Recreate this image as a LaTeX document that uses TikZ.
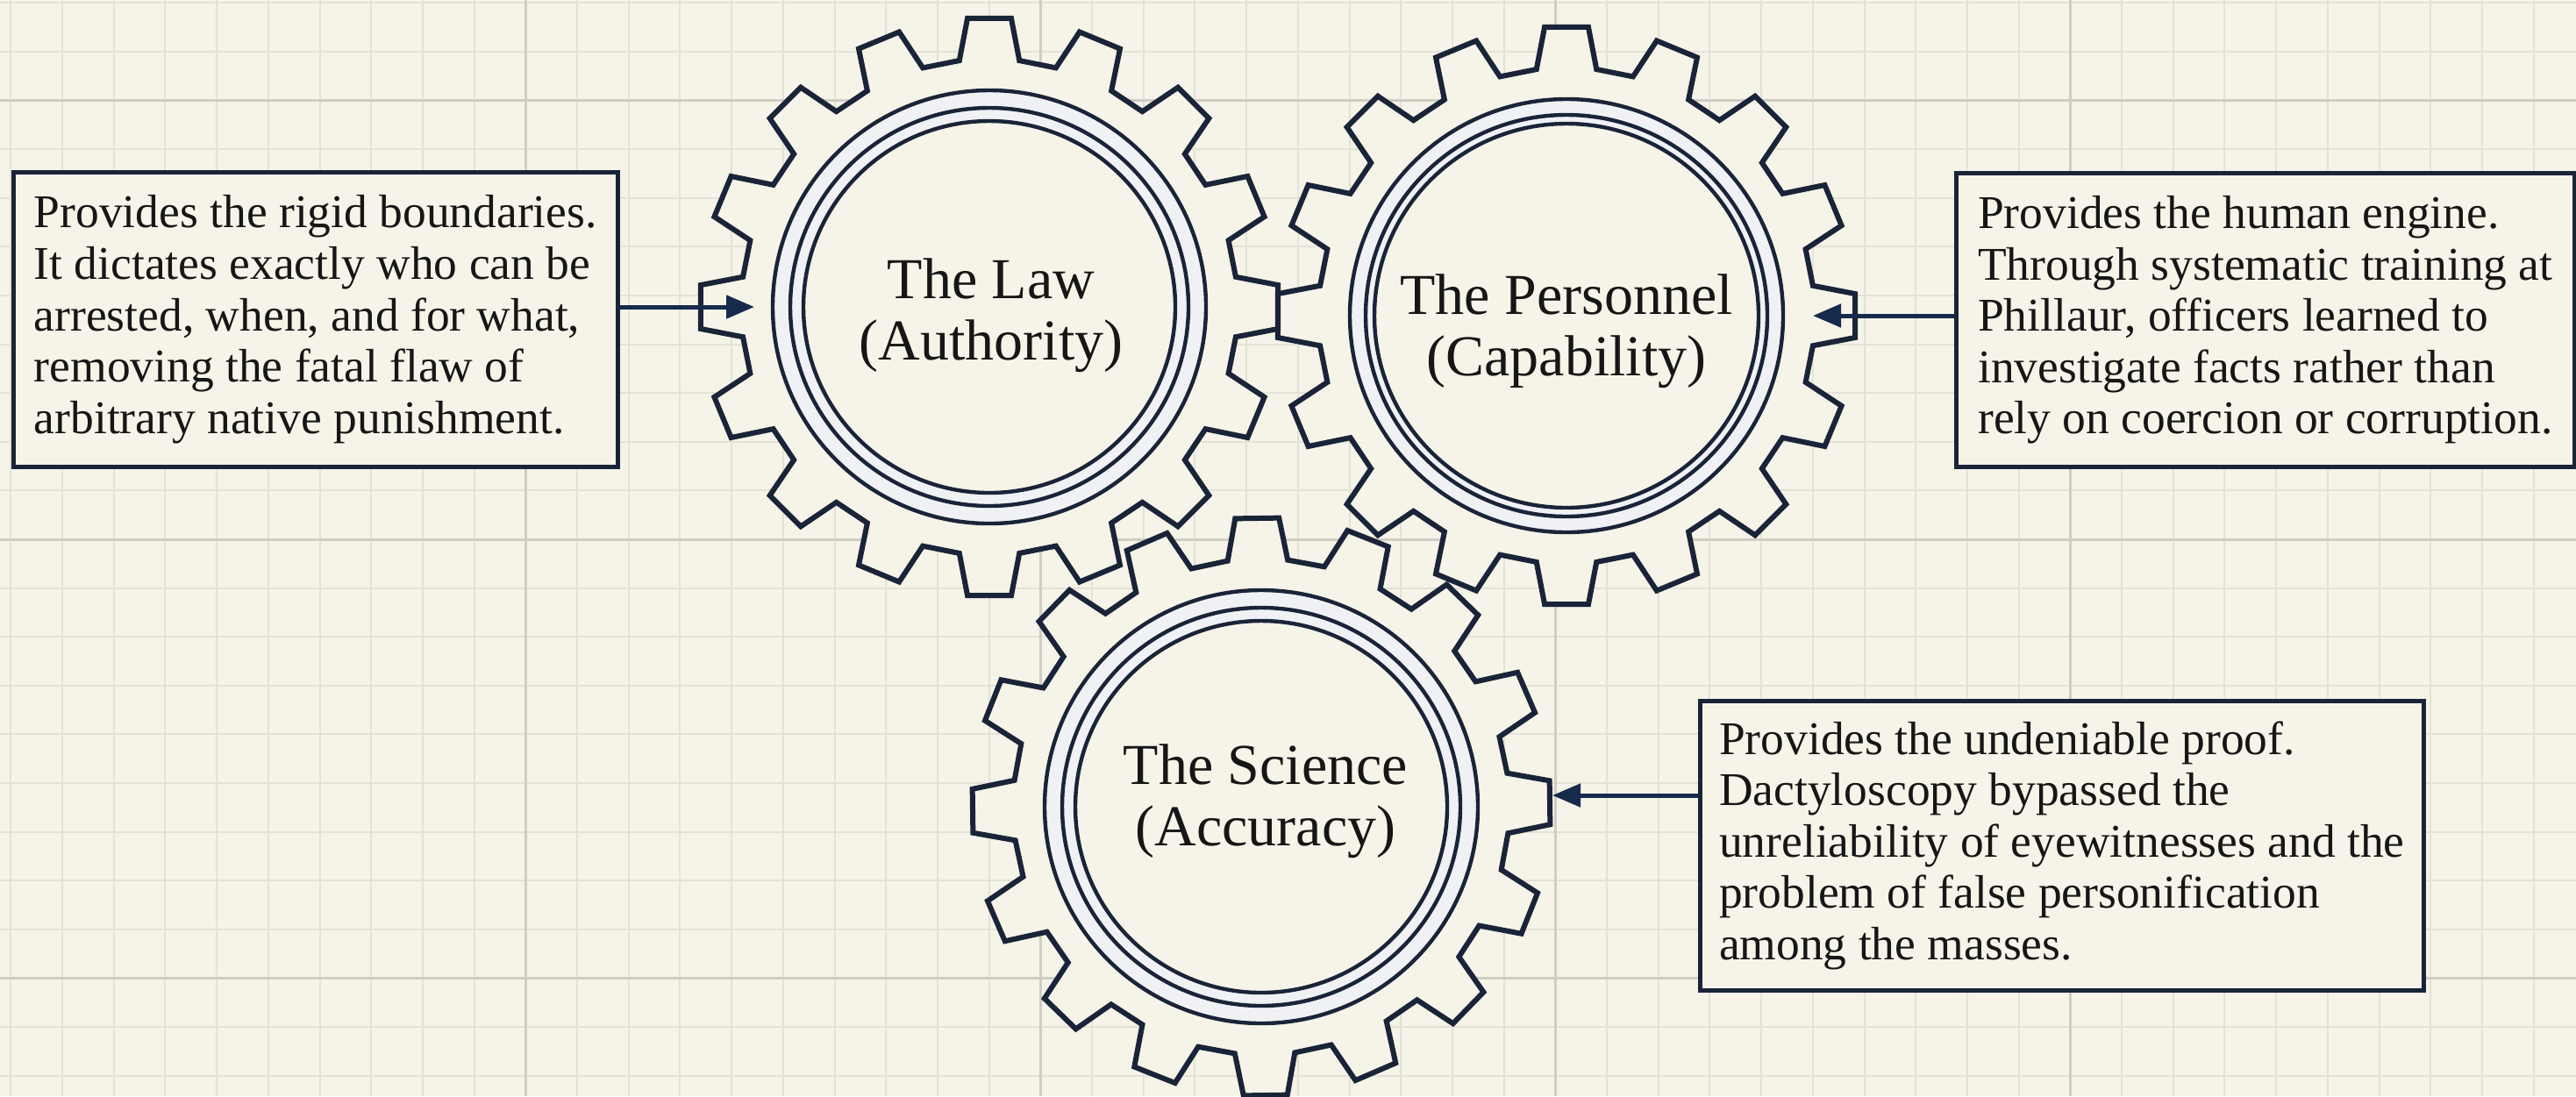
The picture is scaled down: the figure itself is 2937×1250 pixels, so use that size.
\documentclass[tikz,border=0pt]{standalone}
\usepackage{fontspec}
\setmainfont{Liberation Serif}
\usetikzlibrary{arrows.meta}
\definecolor{bgc}{RGB}{246,243,232}
\definecolor{gridminor}{RGB}{228,225,214}
\definecolor{gridmajor}{RGB}{208,205,196}
\definecolor{navy}{RGB}{26,36,56}
\definecolor{arrowc}{RGB}{22,42,76}
\definecolor{txt}{RGB}{22,22,22}
\definecolor{ringfill}{RGB}{240,241,244}
\begin{document}
\begin{tikzpicture}[x=0.5pt,y=-0.5pt,
  minorgrid/.style={draw=gridminor,line width=1pt},
  majorgrid/.style={draw=gridmajor,line width=1.5pt},
  gearline/.style={draw=navy,line width=3pt,line join=miter},
  ringline/.style={draw=navy,line width=2.2pt},
  descbox/.style={draw=navy,line width=2.3pt,fill=bgc,align=left,text=txt,
    font=\fontsize{26.75pt}{29.3pt}\selectfont,anchor=north west,inner sep=0pt},
  gearlabel/.style={align=center,text=txt,font=\fontsize{33pt}{35pt}\selectfont,inner sep=0pt},
  arr/.style={draw=arrowc,line width=2.5pt,-{Triangle[length=16pt,width=13pt]}}
]
% background and bounding box
\fill[bgc] (0,0) rectangle (2937,1250);
\useasboundingbox (0,0) rectangle (2937,1250);
% grid
\foreach \k in {0,...,49} \draw[minorgrid] ({12.3+58.7*\k},0) -- ++(0,1250);
\foreach \k in {0,...,22} \draw[minorgrid] (0,{3.4+55.6*\k}) -- ++(2937,0);
\foreach \gx in {599.3,1186.3,1773.3,2360.3} \draw[majorgrid] (\gx,0) -- ++(0,1250);
\foreach \gy in {114.6,615,1115} \draw[majorgrid] (0,\gy) -- ++(2937,0);

% gear bodies (fill pass)
\foreach \cx/\cy/\rot in {1128/350/0,1786/360/0,1438/920/-0.83}{
  \begin{scope}[shift={(\cx,\cy)}]
    \fill[bgc] ({90+\rot-6.95}:283) \foreach \k in {0,...,15}{
      -- ({90+\rot+22.5*\k-6.95}:283) -- ({90+\rot+22.5*\k-4.34}:330)
      -- ({90+\rot+22.5*\k+4.34}:330) -- ({90+\rot+22.5*\k+6.95}:283)} -- cycle;
  \end{scope}
}
% gear outlines and rings (draw pass)
\foreach \cx/\cy/\rot/\rm/\ri in {1128/350/0/227/212,1786/360/0/229/219,1438/920/-0.83/227/212}{
  \begin{scope}[shift={(\cx,\cy)}]
    \fill[ringfill,even odd rule] (0,0) circle[radius=247] (0,0) circle[radius=\ri];
    \draw[gearline] ({90+\rot-6.95}:283) \foreach \k in {0,...,15}{
      -- ({90+\rot+22.5*\k-6.95}:283) -- ({90+\rot+22.5*\k-4.34}:330)
      -- ({90+\rot+22.5*\k+4.34}:330) -- ({90+\rot+22.5*\k+6.95}:283)} -- cycle;
    \draw[ringline] (0,0) circle[radius=247];
    \draw[ringline] (0,0) circle[radius=\rm];
    \draw[ringline] (0,0) circle[radius=\ri];
  \end{scope}
}

% gear labels
\node[gearlabel] (law) at (1130,360) {The Law\\(Authority)};
\node[gearlabel] (per) at (1786,378) {The Personnel\\(Capability)};
\node[gearlabel] (sci) at (1443,914) {The Science\\(Accuracy)};

% description boxes
\node[descbox,minimum width=344.5pt,minimum height=168pt] (lawbox) at (13,194)
 {Provides the rigid boundaries.\\It dictates exactly who can be\\arrested, when, and for what,\\removing the fatal flaw of\\arbitrary native punishment.};
\node[descbox,minimum width=352.5pt,minimum height=167.5pt] (perbox) at (2228,195)
 {Provides the human engine.\\Through systematic training at\\Phillaur, officers learned to\\investigate facts rather than\\rely on coercion or corruption.};
\node[descbox,minimum width=412.5pt,minimum height=165pt] (scibox) at (1936,797)
 {Provides the undeniable proof.\\Dactyloscopy bypassed the\\unreliability of eyewitnesses and the\\problem of false personification\\among the masses.};

% connectors
\coordinate (lawtip) at (860,350);
\coordinate (pertip) at (2067,360);
\coordinate (scitip) at (1770,907);
\draw[arr] (lawbox.east |- lawtip) -- (lawtip);
\draw[arr] (perbox.west |- pertip) -- (pertip);
\draw[arr] (scibox.west |- scitip) -- (scitip);
\end{tikzpicture}
\end{document}
